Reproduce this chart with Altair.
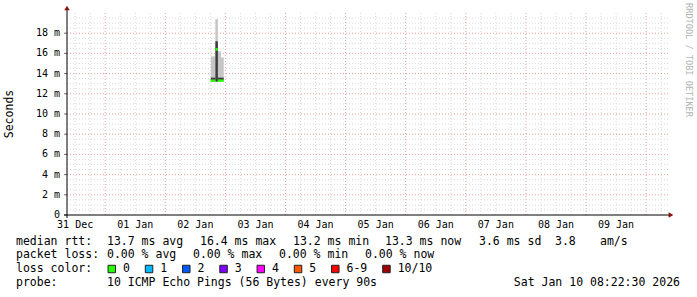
import altair as alt
import pandas as pd

# ---------------- data ----------------
step_start = ["2026-01-02T18:10:00", "2026-01-02T20:00:00", "2026-01-02T21:00:00", "2026-01-02T22:15:00"]
step_end = ["2026-01-02T20:00:00", "2026-01-02T21:00:00", "2026-01-02T22:15:00", "2026-01-02T23:20:00"]
smoke_min_ms = [13.3, 13.2, 13.3, 13.3]
smoke_max_ms = [15.7, 19.4, 16.2, 15.6]
dense_hi_ms = [13.6, 17.2, 13.6, 13.6]
median_ms = [13.3, 16.4, 13.3, 13.3]

y_ticks_ms = [0, 2, 4, 6, 8, 10, 12, 14, 16, 18]
x_label_days = ["2025-12-31", "2026-01-01", "2026-01-02", "2026-01-03", "2026-01-04",
                "2026-01-05", "2026-01-06", "2026-01-07", "2026-01-08", "2026-01-09"]

line1 = ["median rtt:", "13.7 ms avg", "16.4 ms max", "13.2 ms min", "13.3 ms now", "3.6 ms sd", "3.8", "am/s"]
line2 = ["packet loss:", "0.00 % avg", "0.00 % max", "0.00 % min", "0.00 % now"]
line3_head = "loss color:"
loss_labels = ["0", "1", "2", "3", "4", "5", "6-9", "10/10"]
loss_colors = ["#26ff00", "#00b8ff", "#0059ff", "#7e00ff", "#ff00ff", "#ff5500", "#ff0000", "#a00000"]
line4 = ["probe:", "10 ICMP Echo Pings (56 Bytes) every 90s"]
stamp = "Sat Jan 10 08:22:30 2026"
watermark = "RRDTOOL / TOBI OETIKER"
y_title = "Seconds"

# ---------------- layout ----------------
W, H = 601, 202
LEFT, TOP = 67, 13
MONO = "DejaVu Sans Mono"
FS = 11.5
CHAR = 6.95

x_scale = alt.Scale(domain=[alt.DateTime(year=2025, month=12, date=31, hours=8, minutes=45),
                            alt.DateTime(year=2026, month=1, date=10, hours=8, minutes=45)])
y_scale = alt.Scale(domain=[0, 0.020], nice=False, zero=True)

steps = pd.DataFrame({
    "t0": step_start, "t1": step_end,
    "lo": [v / 1000 for v in smoke_min_ms],
    "hi": [v / 1000 for v in smoke_max_ms],
    "dhi": [v / 1000 for v in dense_hi_ms],
    "med": [v / 1000 for v in median_ms],
})

smoke = alt.Chart(steps).mark_rect(color="#c6c6c6").encode(
    x=alt.X("t0:T", scale=x_scale, axis=None), x2="t1:T",
    y=alt.Y("lo:Q", scale=y_scale, axis=None), y2="hi:Q",
)
dense = alt.Chart(steps).mark_rect(color="#3c3c3c").encode(
    x=alt.X("t0:T", scale=x_scale, axis=None), x2="t1:T",
    y=alt.Y("lo:Q", scale=y_scale, axis=None), y2="dhi:Q",
)
median = alt.Chart(steps).mark_rule(color=loss_colors[0], strokeWidth=2.5).encode(
    x=alt.X("t0:T", scale=x_scale, axis=None), x2="t1:T",
    y=alt.Y("med:Q", scale=y_scale, axis=None),
)

# grid positions
minor_v = [t for t in pd.date_range("2025-12-31 12:00", "2026-01-10 06:00", freq="6h") if t.hour != 0]
major_v = list(pd.date_range("2026-01-01", "2026-01-10", freq="D"))
minor_h = [i * 0.0005 for i in range(1, 40) if i % 4 != 0]
major_h = [v / 1000 for v in y_ticks_ms if v > 0]


def vrules(times, color):
    return alt.Chart(pd.DataFrame({"t": times})).mark_rule(
        color=color, strokeWidth=1, strokeDash=[1, 2]
    ).encode(x=alt.X("t:T", scale=x_scale, axis=None))


def hrules(vals, color):
    return alt.Chart(pd.DataFrame({"v": vals})).mark_rule(
        color=color, strokeWidth=1, strokeDash=[1, 2]
    ).encode(y=alt.Y("v:Q", scale=y_scale, axis=None))


grid = [vrules(minor_v, "#dadada"), hrules(minor_h, "#dadada"),
        vrules(major_v, "#e6a0a0"), hrules(major_h, "#e6a0a0")]

# axis tick labels drawn as text through the scales
xlab_df = pd.DataFrame({"t": [pd.Timestamp(d) + pd.Timedelta(hours=12) for d in x_label_days]})
xlab_df["lab"] = [pd.Timestamp(d).strftime("%d %b") for d in x_label_days]
x_labels = alt.Chart(xlab_df).mark_text(
    font=MONO, fontSize=10, align="center", baseline="middle", color="#000"
).encode(x=alt.X("t:T", scale=x_scale, axis=None), y=alt.value(H + 10), text="lab:N")

ylab_df = pd.DataFrame({"v": [v / 1000 for v in y_ticks_ms],
                        "lab": [("0\u00a0\u00a0" if v == 0 else f"{v} m") for v in y_ticks_ms]})
y_labels = alt.Chart(ylab_df).mark_text(
    font=MONO, fontSize=10, align="right", baseline="middle", color="#000"
).encode(y=alt.Y("v:Q", scale=y_scale, axis=None), x=alt.value(-7), text="lab:N")
y_ticks = alt.Chart(ylab_df).mark_rule(color="#707070", strokeWidth=1).encode(
    y=alt.Y("v:Q", scale=y_scale, axis=None), x=alt.value(-3), x2=alt.value(0))

one = pd.DataFrame({"a": [0]})


def text_at(s, px, py, align="left", size=FS, color="#000", angle=None):
    kw = dict(font=MONO, fontSize=size, align=align, baseline="middle", color=color, text=s)
    if angle is not None:
        kw["angle"] = angle
    return alt.Chart(one).mark_text(**kw).encode(x=alt.value(px), y=alt.value(py))


# axis lines + arrows
decor = [
    alt.Chart(one).mark_rule(color="#000", strokeWidth=1).encode(
        x=alt.value(0), y=alt.value(-4), y2=alt.value(H + 3)),
    alt.Chart(one).mark_rule(color="#000", strokeWidth=1).encode(
        x=alt.value(-3), x2=alt.value(W + 2), y=alt.value(H)),
    alt.Chart(one).mark_point(shape="triangle-up", filled=True, size=30,
                              color="#8b1010", opacity=1).encode(x=alt.value(0), y=alt.value(-5)),
    alt.Chart(one).mark_point(shape="triangle-right", filled=True, size=30,
                              color="#8b1010", opacity=1).encode(x=alt.value(W + 3), y=alt.value(H)),
]

# legend
row_y = [241.7 - TOP, 255 - TOP, 269 - TOP, 283 - TOP]
line1_x = [16, 107, 200, 293, 385, 479, 555, 600]
line2_x = [16, 107, 193, 279, 365]
line4_x = [16, 107]

texts = [text_at(y_title, 10 - LEFT, H / 2, align="center", size=11.5, angle=270)]
for s, xx in zip(line1, line1_x):
    texts.append(text_at(s, xx - LEFT, row_y[0]))
for s, xx in zip(line2, line2_x):
    texts.append(text_at(s, xx - LEFT, row_y[1]))
texts.append(text_at(line3_head, 16 - LEFT, row_y[2]))
bx = 108.0
for lab, col in zip(loss_labels, loss_colors):
    texts.append(alt.Chart(one).mark_square(size=56, filled=True, color=col, stroke="#202020",
                                            strokeWidth=1, opacity=1).encode(
        x=alt.value(bx + 3.8 - LEFT), y=alt.value(row_y[2])))
    lx = bx + 15
    texts.append(text_at(lab, lx - LEFT, row_y[2]))
    bx = lx + CHAR * len(lab) + 15.3
for s, xx in zip(line4, line4_x):
    texts.append(text_at(s, xx - LEFT, row_y[3]))
texts.append(text_at(stamp, 680 - LEFT, row_y[3], align="right"))
texts.append(text_at(watermark, 689 - LEFT, 60 - TOP, align="center", size=8.6,
                     color="#b4b4b4", angle=90))

chart = alt.layer(
    *grid, smoke, dense, median, x_labels, y_labels, y_ticks, *decor, *texts
).properties(
    width=W, height=H,
    padding={"left": LEFT, "top": TOP, "right": 697 - LEFT - W, "bottom": 297 - TOP - H},
    autosize=alt.AutoSizeParams(type="none"),
    background="#ffffff",
).configure_view(stroke=None)

chart.save("out.html", embed_options={"renderer": "svg", "actions": False})
